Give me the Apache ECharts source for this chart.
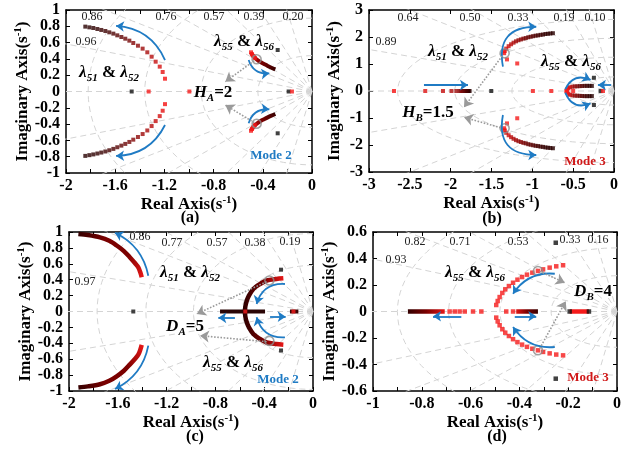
<!DOCTYPE html>
<html><head><meta charset="utf-8">
<script src="https://cdn.jsdelivr.net/npm/echarts@6/dist/echarts.min.js"></script>
<style>html,body{margin:0;padding:0;background:#fff}#c{width:638px;height:449px}</style>
</head><body><div id="c"></div>
<script>
// ================= DATA =================
// damping-ratio rays and natural-frequency circles (grid) per panel
const zetaA = [0.96, 0.86, 0.76, 0.57, 0.39, 0.20];
const wnA   = [0.44, 0.90, 1.36, 1.82];
const zetaB = [0.89, 0.64, 0.50, 0.33, 0.19, 0.10];
const wnB   = [0.52, 1.25, 1.95, 2.65];
const zetaC = [0.97, 0.86, 0.77, 0.57, 0.38, 0.19];
const wnC   = [0.58, 0.98, 1.37, 1.77];
const zetaD = [0.93, 0.82, 0.71, 0.53, 0.33, 0.16];
const wnD   = [0.27, 0.48, 0.69, 0.90];

// ---- panel (a) ----
const a51Upper = [[-1.843,0.796],[-1.810,0.787],[-1.778,0.779],[-1.745,0.767],[-1.713,0.755],[-1.680,0.742],[-1.648,0.726],[-1.615,0.710],[-1.583,0.689],[-1.550,0.669],[-1.518,0.648],[-1.485,0.624],[-1.453,0.595],[-1.415,0.562],[-1.377,0.526],[-1.339,0.481],[-1.304,0.427],[-1.271,0.366],[-1.238,0.305],[-1.214,0.239],[-1.195,0.157]];
const a51Lower = [[-1.843,-0.790],[-1.810,-0.781],[-1.778,-0.772],[-1.745,-0.761],[-1.713,-0.749],[-1.680,-0.736],[-1.648,-0.721],[-1.615,-0.704],[-1.583,-0.684],[-1.550,-0.664],[-1.518,-0.643],[-1.485,-0.619],[-1.453,-0.591],[-1.415,-0.558],[-1.377,-0.522],[-1.339,-0.478],[-1.304,-0.424],[-1.271,-0.363],[-1.238,-0.302],[-1.214,-0.236],[-1.195,-0.155]];
const a55UpperLine = [[-0.298,0.272],[-0.330,0.292],[-0.360,0.314],[-0.390,0.338],[-0.415,0.358],[-0.440,0.383],[-0.460,0.407],[-0.477,0.436],[-0.489,0.460],[-0.496,0.481]];
const a55LowerLine = [[-0.298,-0.276],[-0.330,-0.296],[-0.360,-0.317],[-0.390,-0.340],[-0.415,-0.360],[-0.440,-0.385],[-0.460,-0.409],[-0.477,-0.437],[-0.489,-0.461],[-0.496,-0.482]];
const a55Red = [[-0.465,0.412],[-0.477,0.436],[-0.488,0.458],[-0.496,0.481],[-0.465,-0.414],[-0.477,-0.437],[-0.488,-0.460],[-0.496,-0.482]];
const aBlack = [[-1.466,0],[-0.279,0.509],[-0.279,-0.513],[-0.190,0]];
const aRed = [[-1.328,0],[-0.997,0],[-0.163,0]];
const aRing = [[-0.450,0.395],[-0.450,-0.395]];

// ---- panel (b) ----
const b51Upper = [[-0.748,2.14],[-0.780,2.13],[-0.810,2.12],[-0.840,2.11],[-0.870,2.09],[-0.900,2.08],[-0.930,2.06],[-0.960,2.05],[-0.990,2.03],[-1.020,2.01],[-1.050,1.99],[-1.080,1.96],[-1.110,1.94],[-1.140,1.91],[-1.170,1.88],[-1.200,1.84],[-1.230,1.79],[-1.260,1.73],[-1.290,1.66],[-1.320,1.57],[-1.338,1.48],[-1.345,1.40]];
const b51Lower = [[-0.748,-2.12],[-0.780,-2.11],[-0.810,-2.10],[-0.840,-2.09],[-0.870,-2.07],[-0.900,-2.06],[-0.930,-2.04],[-0.960,-2.03],[-0.990,-2.01],[-1.020,-1.99],[-1.050,-1.97],[-1.080,-1.94],[-1.110,-1.92],[-1.140,-1.89],[-1.170,-1.86],[-1.200,-1.82],[-1.230,-1.77],[-1.260,-1.71],[-1.290,-1.64],[-1.320,-1.55],[-1.338,-1.46],[-1.345,-1.38]];
const bRealLeft = [[-1.768,0],[-1.780,0],[-1.790,0],[-1.800,0],[-1.810,0],[-1.830,0],[-1.850,0],[-1.870,0],[-1.890,0],[-1.931,0],[-1.990,0],[-2.094,0],[-2.311,0],[-2.694,0]];
const b55Upper = [[-0.271,0.19],[-0.300,0.19],[-0.330,0.19],[-0.360,0.19],[-0.390,0.185],[-0.420,0.18],[-0.450,0.175],[-0.480,0.17],[-0.510,0.16],[-0.540,0.14],[-0.560,0.10],[-0.575,0.05]];
const b55Lower = [[-0.271,-0.19],[-0.300,-0.19],[-0.330,-0.19],[-0.360,-0.19],[-0.390,-0.185],[-0.420,-0.18],[-0.450,-0.175],[-0.480,-0.17],[-0.510,-0.16],[-0.540,-0.14],[-0.560,-0.10],[-0.575,-0.05]];
const bBlack = [[-1.503,0],[-0.246,0.49],[-0.246,-0.52],[-0.164,0]];
const bRed = [[-0.993,0],[-0.768,0],[-1.310,1.17],[-1.185,1.02],[-1.310,-1.20],[-1.185,-1.01],[-0.135,0],[-0.585,0],[-0.500,0]];
const bRing = [[-1.339,1.395],[-1.339,-1.38]];

// ---- panel (c) ----
const c51Upper = [[-1.923,0.975],[-1.846,0.962],[-1.746,0.933],[-1.670,0.890],[-1.609,0.830],[-1.550,0.760],[-1.500,0.680],[-1.460,0.610],[-1.432,0.556],[-1.415,0.490],[-1.404,0.430]];
const c51Lower = [[-1.923,-0.955],[-1.846,-0.942],[-1.746,-0.915],[-1.670,-0.872],[-1.609,-0.815],[-1.550,-0.745],[-1.500,-0.665],[-1.460,-0.597],[-1.432,-0.543],[-1.415,-0.478],[-1.404,-0.420]];
const c55Arc = [[-0.243,0.418],[-0.300,0.410],[-0.380,0.390],[-0.440,0.340],[-0.489,0.283],[-0.525,0.200],[-0.543,0.136],[-0.555,0.060],[-0.557,0],[-0.555,-0.060],[-0.543,-0.136],[-0.525,-0.200],[-0.489,-0.283],[-0.440,-0.340],[-0.380,-0.390],[-0.300,-0.410],[-0.243,-0.418]];
const cRealMid = [[-0.762,0],[-0.393,0]];
const cRealRight = [[-0.189,0],[-0.120,0]];
const cBlack = [[-1.473,0],[-0.262,0.526],[-0.262,-0.49]];
const cRed = [[-0.555,0],[-0.160,0]];
const cRing = [[-0.358,0.39],[-0.358,-0.37]];

// ---- panel (d) ----
const d55Upper = [[-0.221,0.349],[-0.249,0.341],[-0.276,0.331],[-0.303,0.318],[-0.324,0.306],[-0.347,0.293],[-0.369,0.278],[-0.389,0.260],[-0.408,0.240],[-0.426,0.217],[-0.443,0.192],[-0.458,0.167],[-0.470,0.140],[-0.481,0.109],[-0.489,0.079],[-0.495,0.049]];
const d55Lower = [[-0.221,-0.331],[-0.249,-0.325],[-0.276,-0.316],[-0.303,-0.305],[-0.324,-0.293],[-0.347,-0.281],[-0.369,-0.267],[-0.389,-0.250],[-0.408,-0.231],[-0.426,-0.209],[-0.443,-0.185],[-0.458,-0.160],[-0.470,-0.134],[-0.481,-0.104],[-0.489,-0.075],[-0.495,-0.046]];
const dRealLeftLine = [[-0.857,0],[-0.706,0]];
const dRealMidLine = [[-0.413,0],[-0.324,0]];
const dRealRightLine = [[-0.194,0],[-0.115,0]];
const dRed = [[-0.686,0],[-0.665,0],[-0.645,0],[-0.624,0],[-0.590,0],[-0.556,0],[-0.454,0],[-0.426,0]];
const dBlack = [[-0.251,0.519],[-0.251,-0.507],[-0.194,0],[-0.115,0]];
const dRing = [[-0.324,0.306],[-0.324,-0.293]];

// ---- annotation arrows ([from, to], curveness) ----
const blueA = [[[-1.195,0.386],[-1.593,0.804],-0.3],[[-1.195,-0.411],[-1.593,-0.791],0.3],[[-0.515,0.387],[-0.347,0.223],-0.4],[[-0.515,-0.39],[-0.347,-0.219],0.4]];
const grayA = [[[-0.469,0.378],[-0.705,0.121]],[[-0.469,-0.382],[-0.705,-0.166]]];
const blueB = [[[-1.36,0.9],[-0.952,2.38],0.6],[[-1.36,-0.89],[-0.952,-2.37],-0.6],[[-2.327,0.22],[-1.788,0.22],0],[[-0.597,0.06],[-0.287,0.41],0.5],[[-0.597,-0.06],[-0.287,-0.46],-0.5],[[-0.034,0.22],[-0.197,0.22],0]];
const grayB = [[[-1.368,1.3],[-1.837,-0.6]],[[-1.388,-1.36],[-1.837,-0.975]]];
const blueC = [[[-1.35,0.45],[-1.623,0.99],-0.25],[[-1.35,-0.43],[-1.623,-0.975],0.25],[[-0.23,0.346],[-0.462,0.094],-0.4],[[-0.23,-0.325],[-0.462,-0.073],0.4],[[-0.64,-0.08],[-0.776,-0.08],0],[[-0.352,-0.065],[-0.224,-0.065],0]];
const grayC = [[[-0.38,0.375],[-0.953,-0.03]],[[-0.38,-0.38],[-0.926,-0.304]]];
const blueD = [[[-0.255,0.285],[-0.426,0.134],-0.3],[[-0.255,-0.268],[-0.426,-0.117],0.3],[[-0.638,-0.036],[-0.754,-0.036],0],[[-0.419,-0.036],[-0.331,-0.036],0]];
const grayD = [[[-0.317,0.303],[-0.214,0.217]],[[-0.317,-0.28],[-0.21,0.077]]];

// ================= STYLE / LAYOUT =================
const FONT = '"Liberation Serif","Times New Roman",serif';
const BLUE = '#1f7bc4';
const panels = [
  {l:66, t:10, w:246, h:163, x:[-2,0,0.2], y:[-1,1,0.2], xf:v=>Math.round(Math.abs(v)*10)%4===0?String(v):'', zeta:zetaA, wn:wnA},
  {l:369,t:10, w:245, h:162, x:[-3,0,0.5], y:[-3,3,1], xf:null, zeta:zetaB, wn:wnB},
  {l:69, t:232,w:244, h:159, x:[-2,0,0.2], y:[-1,1,0.2], xf:v=>Math.round(Math.abs(v)*10)%4===0?String(v):'', zeta:zetaC, wn:wnC},
  {l:373,t:232,w:244, h:159, x:[-1,0,0.1], y:[-0.6,0.6,0.2], xf:v=>Math.round(Math.abs(v)*10)%2===0?String(v):'', zeta:zetaD, wn:wnD},
];
const yNameGap = [32, 24, 32, 31];

function shade(t){ // black -> red
  const u = Math.pow(t, 1.6);
  const r = Math.round(40 + 205*u), g = Math.round(18*u);
  return `rgb(${r},${g},${g})`;
}
const nameRich = {
  m:{fontFamily:FONT,fontWeight:'bold',fontSize:17,color:'#000',lineHeight:20},
  p:{fontFamily:FONT,fontWeight:'bold',fontSize:11,color:'#000',verticalAlign:'top',lineHeight:11}
};

const grids=[], xAxes=[], yAxes=[], series=[];
panels.forEach((p,i)=>{
  grids.push({left:p.l, top:p.t, width:p.w, height:p.h});
  const base = {type:'value', gridIndex:i, splitLine:{show:false},
    axisLine:{show:true,onZero:false,lineStyle:{color:'#000',width:1.5}},
    axisTick:{show:true,inside:true,length:4,lineStyle:{color:'#000',width:1}}};
  const lab = {color:'#000',fontFamily:FONT,fontWeight:'bold',fontSize:16,showMinLabel:true,showMaxLabel:true,hideOverlap:false};
  xAxes.push(Object.assign({}, base, {position:'bottom', min:p.x[0], max:p.x[1], interval:p.x[2],
    axisLabel:Object.assign({margin:5}, lab, p.xf?{formatter:p.xf}:{}),
    name:'{m|Real Axis(s}{p|-1}{m|)}', nameLocation:'middle', nameGap:17, nameTextStyle:{rich:nameRich}}));
  xAxes.push(Object.assign({}, base, {position:'top', min:p.x[0], max:p.x[1], interval:p.x[2], axisLabel:{show:false}}));
  yAxes.push(Object.assign({}, base, {position:'left', min:p.y[0], max:p.y[1], interval:p.y[2],
    axisLabel:Object.assign({margin:6}, lab),
    name:'{m|Imaginary Axis(s}{p|-1}{m|)}', nameLocation:'middle', nameGap:yNameGap[i], nameTextStyle:{rich:nameRich}}));
  yAxes.push(Object.assign({}, base, {position:'right', min:p.y[0], max:p.y[1], interval:p.y[2], axisLabel:{show:false}}));

  const xi = 2*i, yi = 2*i;
  // s-plane grid: rays & circles
  const R = 10, rays = [{coords:[[0,0],[-R,0]]}];
  p.zeta.forEach(z=>{const s=Math.sqrt(1-z*z); rays.push({coords:[[0,0],[-z*R,s*R]]},{coords:[[0,0],[-z*R,-s*R]]});});
  p.wn.forEach(w=>{const c=[]; for(let k=0;k<=60;k++){const th=Math.PI/2+Math.PI*k/60; c.push([w*Math.cos(th), w*Math.sin(th)]);} rays.push({coords:c});});
  series.push({type:'lines', coordinateSystem:'cartesian2d', xAxisIndex:xi, yAxisIndex:yi, polyline:true, clip:true, silent:true, z:1,
    lineStyle:{color:'#d4d4d4', width:1, type:[6,4], opacity:1}, data:rays});
});

function scat(i, arr, colorFn, size, extra){
  const n = arr.length;
  series.push(Object.assign({type:'scatter', xAxisIndex:2*i, yAxisIndex:2*i, symbol:'rect', symbolSize:size||4, z:3, silent:true,
    data: arr.map((v,k)=>({value:v, itemStyle:{color: colorFn(n>1?k/(n-1):1)}}))}, extra||{}));
}
function gline(i, arr, grad, width){
  series.push({type:'line', xAxisIndex:2*i, yAxisIndex:2*i, data:arr, smooth:0.3, symbol:'none', z:3, silent:true,
    lineStyle:{width:width||4, color:grad, cap:'butt'}});
}
function LG(x0,y0,x1,y1,stops){return new echarts.graphic.LinearGradient(x0,y0,x1,y1,stops.map((c,k)=>({offset:k/(stops.length-1),color:c})));}
function ring(i, arr){
  series.push({type:'scatter', xAxisIndex:2*i, yAxisIndex:2*i, symbol:'circle', symbolSize:9, z:4, silent:true, data:arr,
    itemStyle:{color:'rgba(0,0,0,0)', borderColor:'#8c8c8c', borderWidth:1.6}});
}
function arrows(i, list, gray){
  series.push({type:'lines', coordinateSystem:'cartesian2d', xAxisIndex:2*i, yAxisIndex:2*i, z:5, silent:true,
    symbol:['none','arrow'], symbolSize: gray?9:8,
    lineStyle: gray?{color:'#9a9a9a', width:1.6, type:'dotted', opacity:1}:{color:BLUE, width:1.8, opacity:1},
    data: list.map(a=>({coords:[a[0],a[1]], lineStyle:{curveness: gray?0:a[2]}}))});
}
const DARK = '#2a0000', MID = '#7a0000', RED = '#f51a1a';
const black = ()=>'#111', red = ()=>RED;

// panel a
scat(0, a51Upper, shade, 4); scat(0, a51Lower, shade, 4);
gline(0, a55UpperLine, LG(1,1,0,0,[DARK,MID,RED]), 4);
gline(0, a55LowerLine, LG(1,0,0,1,[DARK,MID,RED]), 4);
scat(0, a55Red, red, 4); scat(0, aBlack, black, 4); scat(0, aRed, red, 4); ring(0, aRing);
arrows(0, blueA, false); arrows(0, grayA, true);
// panel b
scat(1, b51Upper, shade, 4); scat(1, b51Lower, shade, 4); scat(1, bRealLeft, shade, 4);
scat(1, b55Upper, shade, 4); scat(1, b55Lower, shade, 4);
scat(1, bBlack, black, 4); scat(1, bRed, red, 4); ring(1, bRing);
arrows(1, blueB, false); arrows(1, grayB, true);
// panel c
gline(2, c51Upper, LG(0,0,1,1,[DARK,MID,MID,RED]), 4.5);
gline(2, c51Lower, LG(0,1,1,0,[DARK,MID,MID,RED]), 4.5);
gline(2, c55Arc, LG(0,0,1,0,[DARK,MID,RED]), 4.5);
gline(2, cRealMid, '#2a0505', 4); gline(2, cRealRight, '#3a0505', 4);
scat(2, cBlack, black, 4); scat(2, cRed, red, 4); ring(2, cRing);
arrows(2, blueC, false); arrows(2, grayC, true);
// panel d
scat(3, d55Upper, red, 4.5); scat(3, d55Lower, red, 4.5);
gline(3, dRealLeftLine, LG(0,0,1,0,[DARK,MID,RED]), 4.5);
gline(3, dRealMidLine, LG(0,0,1,0,[RED,MID,DARK]), 4.5);
gline(3, dRealRightLine, RED, 4.5);
scat(3, dRed, red, 4.5); scat(3, dBlack, black, 4.5); ring(3, dRing);
arrows(3, blueD, false); arrows(3, grayD, true);

// ================= TEXT ANNOTATIONS =================
const zetaLabels = [
  ['0.86',92,17],['0.76',166,17],['0.57',214,17],['0.39',254,17],['0.20',293,17],['0.96',86,42],
  ['0.64',408,18],['0.50',470,18],['0.33',518,18],['0.19',564,18],['0.10',595,18],['0.89',386,42],
  ['0.86',140,237],['0.77',172,243],['0.57',217,243],['0.38',255,243],['0.19',290,242],['0.97',85,282],
  ['0.82',415,242],['0.71',460,242],['0.53',518,242],['0.33',570,240],['0.16',598,240],['0.93',396,260]
];
const lamRich = {
  l:{fontFamily:FONT,fontStyle:'italic',fontWeight:'bold',fontSize:17,color:'#000',lineHeight:22},
  s:{fontFamily:FONT,fontStyle:'italic',fontWeight:'bold',fontSize:11,color:'#000',verticalAlign:'bottom',lineHeight:11},
  a:{fontFamily:FONT,fontWeight:'bold',fontSize:17,color:'#000',lineHeight:22}
};
const L5152 = '{l|λ}{s|51}{a| & }{l|λ}{s|52}', L5556 = '{l|λ}{s|55}{a| & }{l|λ}{s|56}';
const richTexts = [
  [L5152,109,73],[L5556,244,42],['{l|H}{s|A}{a|=2}',213,93],
  [L5152,458,52],[L5556,571,62],['{l|H}{s|B}{a|=1.5}',428,113],
  [L5152,190,273],[L5556,233,363],['{l|D}{s|A}{a|=5}',185,327],
  [L5556,475,273],['{l|D}{s|B}{a|=4}',593,292]
];
const graphics = [];
zetaLabels.forEach(z=>graphics.push({type:'text', x:z[1], y:z[2], z:10, silent:true,
  style:{text:z[0], fontFamily:FONT, fontSize:12, fill:'#222', align:'center', verticalAlign:'middle'}}));
richTexts.forEach(r=>graphics.push({type:'text', x:r[1], y:r[2], z:10, silent:true,
  style:{text:r[0], rich:lamRich, align:'center', verticalAlign:'middle'}}));
[['Mode 2',271,156,BLUE],['Mode 3',585,162,'#d01818'],['Mode 2',278,380,BLUE],['Mode 3',588,378,'#d01818']].forEach(m=>
  graphics.push({type:'text', x:m[1], y:m[2], z:10, silent:true,
    style:{text:m[0], fontFamily:FONT, fontWeight:'bold', fontSize:13, fill:m[3], align:'center', verticalAlign:'middle'}}));
[['(a)',190,218],['(b)',492,219],['(c)',195,437],['(d)',497,437]].forEach(m=>
  graphics.push({type:'text', x:m[1], y:m[2], z:10, silent:true,
    style:{text:m[0], fontFamily:FONT, fontWeight:'bold', fontSize:16, fill:'#000', align:'center', verticalAlign:'middle'}}));

const chart = echarts.init(document.getElementById('c'));
chart.setOption({animation:false, backgroundColor:'#fff', grid:grids, xAxis:xAxes, yAxis:yAxes, series:series, graphic:graphics});
</script></body></html>
